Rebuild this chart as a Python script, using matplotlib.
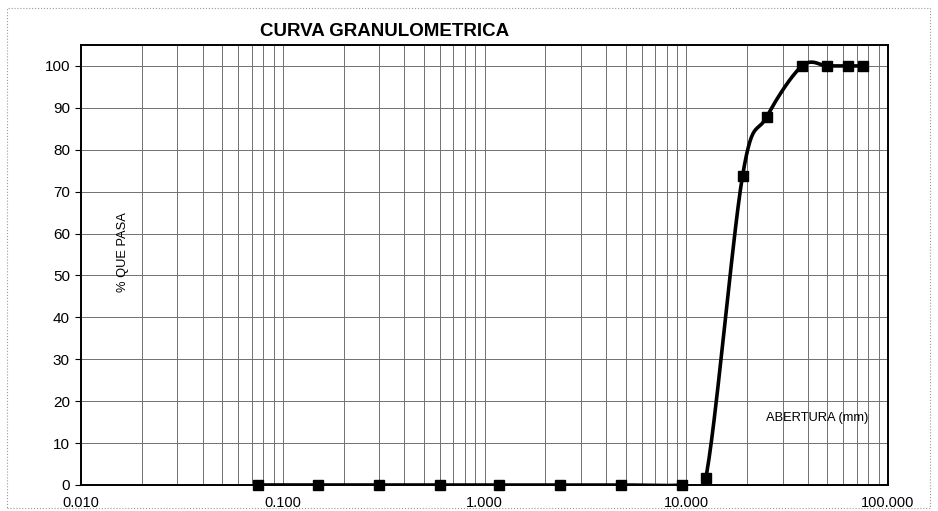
"""Curva granulometrica (reproduccion del grafico escaneado)."""
import matplotlib
matplotlib.use("Agg")
import matplotlib.pyplot as plt
import numpy as np
from matplotlib.ticker import FixedLocator, LogLocator, NullFormatter

plt.rcParams["font.family"] = ["Liberation Sans", "DejaVu Sans"]

# tamices (mm) y porcentaje que pasa
abertura = [0.075, 0.15, 0.30, 0.60, 1.18, 2.36, 4.75, 9.5, 12.5, 19.0, 25.0, 37.5, 50.0, 63.0, 75.0]
pasa = [0.0, 0.0, 0.0, 0.0, 0.0, 0.0, 0.0, 0.0, 1.7, 73.7, 87.8, 100.0, 100.0, 100.0, 100.0]

x_ticks = [0.01, 0.1, 1.0, 10.0, 100.0]
x_labels = ["0.010", "0.100", "1.000", "10.000", "100.000"]
y_ticks = list(range(0, 101, 10))


def smooth_line(xs, ys, n=30):
    """Linea suavizada tipo Excel (Catmull-Rom) en espacio log-x."""
    lx = np.log10(xs)
    ys = np.asarray(ys, dtype=float)
    px, py = [], []
    m = len(lx)
    for i in range(m - 1):
        i0, i3 = max(i - 1, 0), min(i + 2, m - 1)
        c1x = lx[i] + (lx[i + 1] - lx[i0]) / 6
        c1y = ys[i] + (ys[i + 1] - ys[i0]) / 6
        c2x = lx[i + 1] - (lx[i3] - lx[i]) / 6
        c2y = ys[i + 1] - (ys[i3] - ys[i]) / 6
        t = np.linspace(0, 1, n)
        b0, b1, b2, b3 = (1 - t) ** 3, 3 * t * (1 - t) ** 2, 3 * t ** 2 * (1 - t), t ** 3
        px.extend(b0 * lx[i] + b1 * c1x + b2 * c2x + b3 * lx[i + 1])
        py.extend(b0 * ys[i] + b1 * c1y + b2 * c2y + b3 * ys[i + 1])
    return 10 ** np.array(px), np.array(py)


fig = plt.figure(figsize=(9.38, 5.11), dpi=100)
ax = fig.add_axes([0.0864, 0.0509, 0.8603, 0.8611])

sx, sy = smooth_line(abertura, pasa)
ax.plot(sx, sy, color="black", linewidth=2.6, solid_capstyle="round", zorder=3)
ax.plot(abertura, pasa, linestyle="none", marker="s", markersize=6.5,
        color="black", zorder=4, clip_on=False)

ax.set_xscale("log")
ax.set_xlim(0.01, 100)
ax.set_ylim(0, 105)
ax.xaxis.set_major_locator(FixedLocator(x_ticks))
ax.set_xticklabels(x_labels)
ax.xaxis.set_minor_locator(LogLocator(base=10, subs=np.arange(2, 10)))
ax.xaxis.set_minor_formatter(NullFormatter())
ax.set_yticks(y_ticks)

ax.grid(True, which="both", axis="x", color="#707070", linewidth=0.7)
ax.grid(True, which="major", axis="y", color="#707070", linewidth=0.7)
ax.set_axisbelow(True)

ax.tick_params(axis="x", which="both", length=0, labelsize=10.5, pad=8)
ax.tick_params(axis="y", length=4, width=0.8, labelsize=11, pad=4)
for sp in ax.spines.values():
    sp.set_linewidth(1.4)

ax.text(0.052, 0.53, "% QUE PASA", transform=ax.transAxes, rotation=90,
        ha="center", va="center", fontsize=9.3)
ax.text(0.912, 0.152, "ABERTURA (mm)", transform=ax.transAxes,
        ha="center", va="center", fontsize=9.3)

fig.text(385 / 938, 1 - 31 / 511, "CURVA GRANULOMETRICA", ha="center", va="center",
         fontsize=13.5, fontweight="bold")

# marco exterior del grafico
border = plt.Rectangle((7 / 938, 3 / 511), 1 - 15 / 938, 1 - 11 / 511,
                       transform=fig.transFigure, fill=False,
                       edgecolor="#9a9a9a", linewidth=0.8, linestyle=":")
fig.patches.append(border)

fig.savefig("out.png", dpi=100)
